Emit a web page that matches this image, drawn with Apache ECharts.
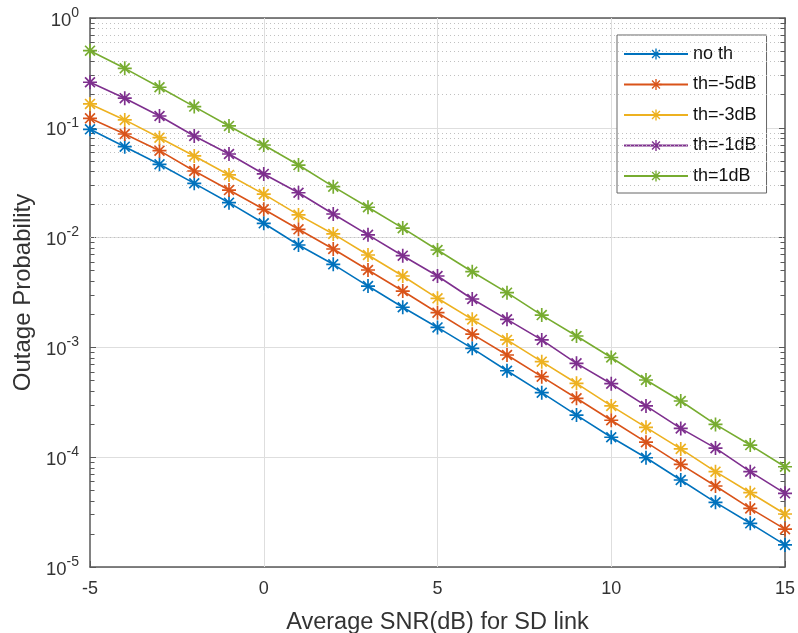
<!DOCTYPE html>
<html><head><meta charset="utf-8">
<script src="https://cdn.jsdelivr.net/npm/echarts@6/dist/echarts.min.js"></script>
<style>html,body{margin:0;padding:0;background:#fff}#c{width:798px;height:633px}</style>
</head><body><div id="c"></div>
<script>
const snr = [-5,-4,-3,-2,-1,0,1,2,3,4,5,6,7,8,9,10,11,12,13,14,15];
const noTh = [0.0969,0.0673,0.0465,0.0312,0.0208,0.0135,0.00856,0.00571,0.00362,0.00232,0.00152,0.000981,0.000613,0.000387,0.000242,0.000152,9.89e-5,6.20e-5,3.88e-5,2.50e-5,1.59e-5];
const thM5 = [0.122,0.0878,0.0619,0.0404,0.0271,0.0181,0.0119,0.00787,0.00507,0.00326,0.00207,0.00132,0.000853,0.000541,0.000344,0.000217,0.000137,8.61e-5,5.47e-5,3.42e-5,2.21e-5];
const thM3 = [0.165,0.118,0.0813,0.0554,0.0372,0.0249,0.0161,0.0108,0.00694,0.00447,0.00280,0.00180,0.00117,0.000741,0.000471,0.000293,0.000187,0.000119,7.38e-5,4.75e-5,3.04e-5];
const thM1 = [0.260,0.186,0.128,0.0842,0.0577,0.0380,0.0256,0.0164,0.0106,0.00684,0.00447,0.00276,0.00180,0.00117,0.000716,0.000467,0.000293,0.000183,0.000121,7.38e-5,4.69e-5];
const thP1 = [0.504,0.348,0.234,0.156,0.104,0.0697,0.0458,0.0291,0.0189,0.0122,0.00771,0.00489,0.00315,0.00197,0.00127,0.000809,0.000505,0.000325,0.000199,0.000129,8.19e-5];
const seriesNames = ['no th','th=-5dB','th=-3dB','th=-1dB','th=1dB'];
const seriesData = [noTh, thM5, thM3, thM1, thP1];
const colors = ['#0072BD','#D95319','#EDB120','#7E2F8E','#77AC30'];
const xTicks = [-5,0,5,10,15];
const decades = [-5,-4,-3,-2,-1];
const minorMultipliers = [2,3,4,5,6,7,8,9];
const vMajor = [0,5,10];

const star = 'path://M8.8 0L11.2 0L11.2 20L8.8 20Z M0 8.8L20 8.8L20 11.2L0 11.2Z M2.1 3.8L3.8 2.1L17.9 16.2L16.2 17.9Z M16.2 2.1L17.9 3.8L3.8 17.9L2.1 16.2Z';
const FONT = '"Liberation Sans", Arial, Helvetica, sans-serif';
const axisCol = '#595959';

const minorVals = [];
decades.forEach(d => minorMultipliers.forEach(m => minorVals.push(m * Math.pow(10, d))));

const gridLines = [];
minorVals.forEach(v => gridLines.push({yAxis: v, lineStyle: {color: '#c0c0c0', type: [1, 3], width: 1}}));
const tickSegs = [];
minorVals.forEach(v => {
  tickSegs.push([{coord: [-5, v]}, {coord: [-4.87, v]}]);
  tickSegs.push([{coord: [15, v]}, {coord: [14.87, v]}]);
});

const series = seriesNames.map((n, i) => ({
  name: n, type: 'line', z: 5,
  data: snr.map((x, j) => [x, seriesData[i][j]]),
  symbol: star, symbolSize: 14, showAllSymbol: true,
  lineStyle: {color: colors[i], width: 1.6},
  itemStyle: {color: colors[i]},
  emphasis: {disabled: true}, animation: false
}));
series.unshift({
  name: 'grid', type: 'line', data: [], z: 1, silent: true, animation: false,
  markLine: {symbol: 'none', silent: true, label: {show: false}, animation: false,
    data: gridLines.concat(vMajor.map(x => ({xAxis: x, lineStyle: {color: '#dedede', type: 'solid', width: 1}})))}
});
series.push({
  name: 'ticks', type: 'line', data: [], z: 6, silent: true, animation: false,
  markLine: {symbol: 'none', silent: true, label: {show: false}, animation: false,
    lineStyle: {color: axisCol, type: 'solid', width: 1}, data: tickSegs}
});

const yLabel = v => {
  const e = Math.round(Math.log10(v));
  return '{b|10}{s|' + e + '}';
};

const option = {
  backgroundColor: '#fff',
  animation: false,
  grid: {left: 90, right: 13, top: 18, bottom: 66, show: false, containLabel: false, outerBoundsMode: 'none'},
  legend: {
    data: seriesNames, orient: 'vertical', left: 617, top: 35,
    itemWidth: 64, itemHeight: 14, itemGap: 12.5,
    padding: [10, 10, 8, 6],
    borderColor: '#666', borderWidth: 1, backgroundColor: '#fff',
    textStyle: {fontSize: 18, color: '#111', fontFamily: FONT}
  },
  xAxis: [{
    type: 'value', min: -5, max: 15, interval: 5,
    name: 'Average SNR(dB) for SD link', nameLocation: 'middle', nameGap: 44,
    nameTextStyle: {fontSize: 23.5, color: '#333', fontFamily: FONT},
    axisLine: {show: true, onZero: false, lineStyle: {color: axisCol, width: 1.5}},
    axisTick: {show: true, inside: true, length: 6, lineStyle: {color: axisCol}},
    axisLabel: {fontSize: 18, color: '#333', margin: 13, fontFamily: FONT},
    splitLine: {show: false}
  }, {
    type: 'value', min: -5, max: 15, interval: 5, position: 'top',
    axisLine: {show: true, onZero: false, lineStyle: {color: axisCol, width: 1.5}},
    axisTick: {show: true, inside: true, length: 6, lineStyle: {color: axisCol}},
    axisLabel: {show: false}, splitLine: {show: false}
  }],
  yAxis: [{
    type: 'log', logBase: 10, min: 1e-5, max: 1,
    name: 'Outage Probability', nameLocation: 'middle', nameGap: 55,
    nameTextStyle: {fontSize: 24, color: '#333', fontFamily: FONT},
    axisLine: {show: true, onZero: false, lineStyle: {color: axisCol, width: 1.5}},
    axisTick: {show: true, inside: true, length: 6, lineStyle: {color: axisCol}},
    axisLabel: {margin: 11, formatter: yLabel, fontFamily: FONT,
      rich: {b: {fontSize: 18.5, color: '#333', fontFamily: FONT, verticalAlign: 'bottom', lineHeight: 24},
             s: {fontSize: 14, color: '#333', fontFamily: FONT, verticalAlign: 'top', lineHeight: 24}}},
    splitLine: {show: true, lineStyle: {color: '#dedede', width: 1}}
  }, {
    type: 'log', logBase: 10, min: 1e-5, max: 1, position: 'right',
    axisLine: {show: true, onZero: false, lineStyle: {color: axisCol, width: 1.5}},
    axisTick: {show: true, inside: true, length: 6, lineStyle: {color: axisCol}},
    axisLabel: {show: false}, splitLine: {show: false}
  }],
  series: series
};
const chart = echarts.init(document.getElementById('c'), null, {renderer: 'canvas'});
chart.setOption(option);
</script></body></html>
